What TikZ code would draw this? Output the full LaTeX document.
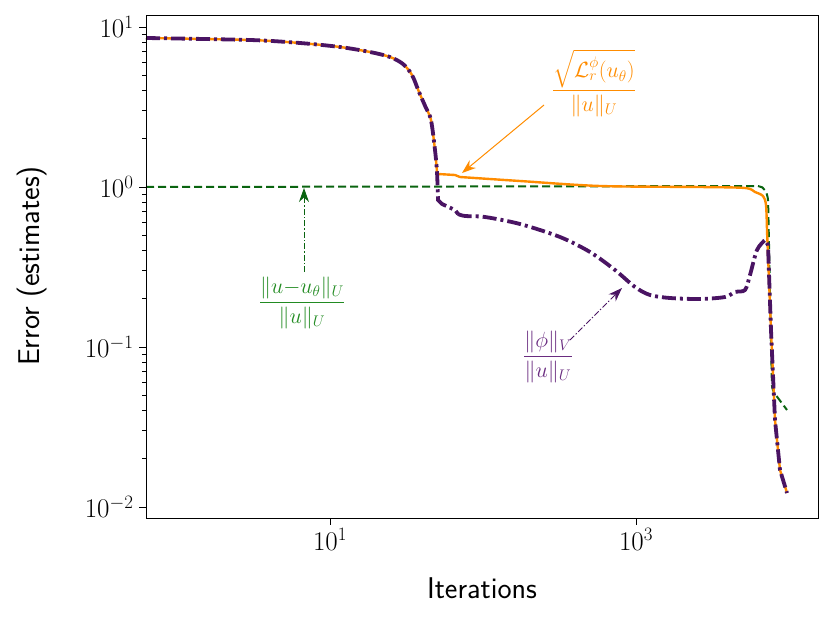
\documentclass[tikz,border=0pt]{standalone}
\usepackage{fix-cm}
\usepackage{amsmath}
\usepackage{fontspec}
\usetikzlibrary{arrows.meta}
\definecolor{cpur}{HTML}{4A1463}
\definecolor{cpurl}{HTML}{6A2C80}
\definecolor{corg}{HTML}{FF8C00}
\definecolor{cgrn}{HTML}{0A6410}
\definecolor{cgrnl}{HTML}{228B22}
\begin{document}
\begin{tikzpicture}[x=1pt,y=-1pt,
  ticklab/.style={font=\fontsize{27}{30}\selectfont},
  axlab/.style={font=\fontsize{30}{34}\selectfont\sffamily},
  ann/.style={font=\fontsize{22}{25}\selectfont},
  purline/.style={cpur,line width=3.8pt,dash pattern=on 14pt off 4pt on 3pt off 4pt},
  orgline/.style={corg,line width=2.4pt},
  grnline/.style={cgrn,line width=2pt,dash pattern=on 8pt off 4pt},
  annarrow/.style={-{Stealth[length=14pt,width=10pt]},line width=1pt}]
\useasboundingbox (0,0) rectangle (831,621);
% curves
\draw[grnline,rounded corners=5pt] (146,187) -- (763,186) -- (768,196) -- (772,390) -- (787,410);
\draw[orgline] plot[smooth,tension=0.5] coordinates{(146,38) (250,40) (300,43) (340,47) (370,52) (390,57) (403,64) (412,75) (419,92) (426,108) (431,120) (435,150) (437,172)} -- (438,174) -- (455,175) -- (460,177)
 plot[smooth,tension=0.5] coordinates{(460,177) (520,181) (600,186) (700,187) (745,188) (755,192) (763,196) (766,205) (767,230)} -- (771,330) -- (775,420) -- (780,470) -- (787,493);
\draw[purline] plot[smooth,tension=0.5] coordinates{(146,38) (250,40) (300,43) (340,47) (370,52) (390,57) (403,64) (412,75) (419,92) (426,108) (431,120) (435,150) (437,172) (438,200)} -- (442,204) -- (455,210) -- (458,214)
 plot[smooth,tension=0.5] coordinates{(458,214) (465,216) (485,217) (520,224) (560,237) (590,252) (615,270) (635,287) (650,295) (670,298) (700,299) (725,297) (735,292) (745,290) (750,275) (757,250) (765,240)} -- (768,245) -- (771,330) -- (775,420) -- (780,470) -- (787,493);
% axes
\draw[line width=1pt] (146,15) rectangle (818,518);
\foreach \yy/\e in {27/1,187/0,347/-1,507/-2}{
  \draw[line width=1pt] (146,\yy) -- (139,\yy);
  \node[ticklab,anchor=east] at (137,\yy) {$10^{\e}$};
}
\foreach \yy in {27,187,347}{
  \foreach \k in {2,...,9}{
    \pgfmathsetmacro\ty{\yy+160-160*log10(\k)}
    \draw[line width=0.8pt] (146,\ty) -- (142,\ty);
  }
}
\foreach \k in {2,...,9}{
  \pgfmathsetmacro\ty{507-160*log10(\k)}
  \ifdim\ty pt>15pt \draw[line width=0.8pt] (146,\ty) -- (142,\ty);\fi
}
\foreach \xx/\e in {330/1,636/3}{
  \draw[line width=1pt] (\xx,518) -- (\xx,525);
  \node[ticklab,anchor=north] at (\xx,525) {$10^{\e}$};
}
\node[axlab] (xl) at (482,588) {Iterations};
\node[axlab,rotate=90] (yl) at (32,266) {Error (estimates)};
% annotations
\node[ann,text=corg] (lo) at (594,83) {$\dfrac{\sqrt{\mathcal{L}_r^{\phi}(u_\theta)}}{\|u\|_U}$};
\node[ann,text=cpurl] (lp) at (548,357) {$\dfrac{\|\phi\|_V}{\|u\|_U}$};
\node[ann,text=cgrnl] (lg) at (302,303) {$\dfrac{\|u{-}u_\theta\|_U}{\|u\|_U}$};
\coordinate (to) at (462,173);
\coordinate (tp) at (622,288);
\coordinate (tg) at (304,188);
\draw[annarrow,corg] (544,105) -- (to);
\draw[annarrow,cpur,dash pattern=on 6pt off 2pt on 1.5pt off 2pt] (570,340) -- (tp);
\draw[annarrow,cgrn,dash pattern=on 6pt off 2pt on 1.5pt off 2pt] (304,272) -- (tg);
\end{tikzpicture}
\end{document}
